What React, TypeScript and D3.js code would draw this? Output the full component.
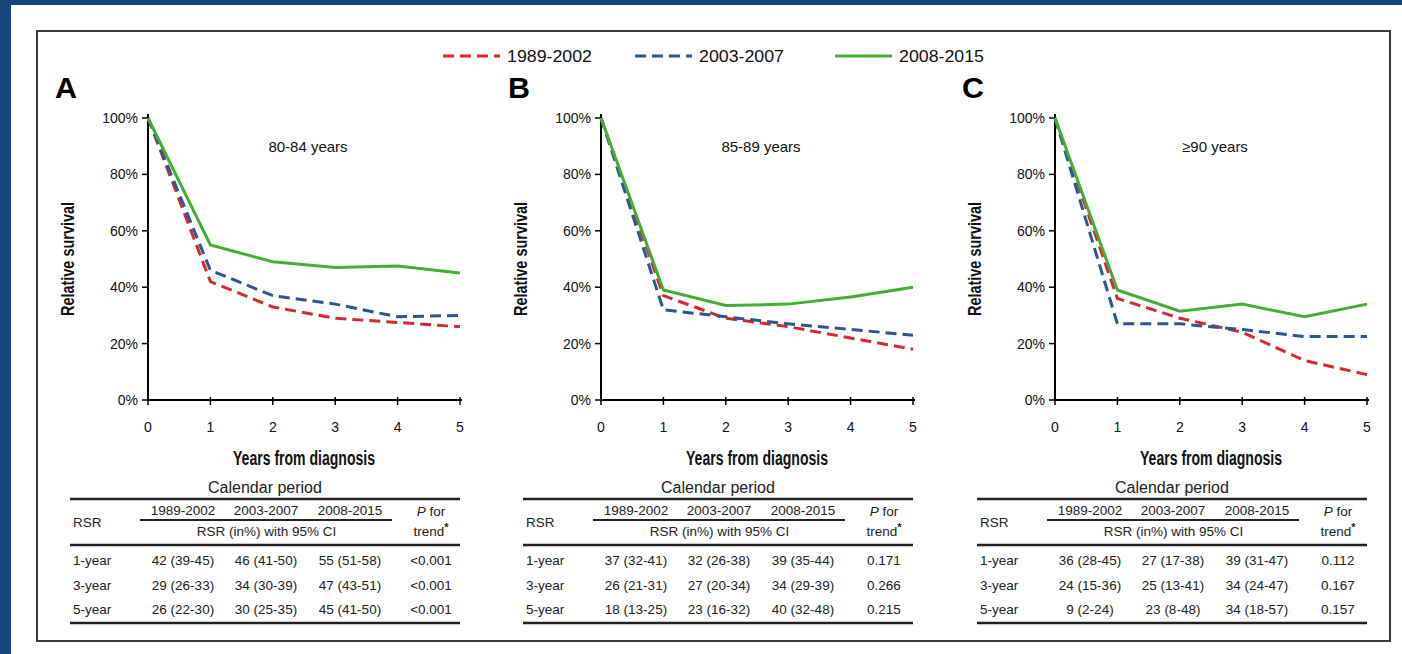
import { useMemo } from "react"
import * as d3 from "d3"

// Datos
const years = [0, 1, 2, 3, 4, 5]
const periods = ["1989-2002", "2003-2007", "2008-2015"]
const yTicks = [0, 20, 40, 60, 80, 100]
const panelLetters = ["A", "B", "C"]
const ageGroups = ["80-84 years", "85-89 years", "≥90 years"]

// Supervivencia relativa (%) por periodo, un array por panel
const survivalA = [
  [100, 42, 33, 29, 27.5, 26],
  [100, 46, 37, 34, 29.5, 30],
  [100, 55, 49, 47, 47.5, 45],
]
const survivalB = [
  [100, 37, 29, 26, 22, 18],
  [100, 32, 29.5, 27, 25, 23],
  [100, 39, 33.5, 34, 36.5, 40],
]
const survivalC = [
  [100, 36, 29, 24, 14, 9],
  [100, 27, 27, 25, 22.5, 22.5],
  [100, 39, 31.5, 34, 29.5, 34],
]

const tableA = [
  ["1-year", "42 (39-45)", "46 (41-50)", "55 (51-58)", "<0.001"],
  ["3-year", "29 (26-33)", "34 (30-39)", "47 (43-51)", "<0.001"],
  ["5-year", "26 (22-30)", "30 (25-35)", "45 (41-50)", "<0.001"],
]
const tableB = [
  ["1-year", "37 (32-41)", "32 (26-38)", "39 (35-44)", "0.171"],
  ["3-year", "26 (21-31)", "27 (20-34)", "34 (29-39)", "0.266"],
  ["5-year", "18 (13-25)", "23 (16-32)", "40 (32-48)", "0.215"],
]
const tableC = [
  ["1-year", "36 (28-45)", "27 (17-38)", "39 (31-47)", "0.112"],
  ["3-year", "24 (15-36)", "25 (13-41)", "34 (24-47)", "0.167"],
  ["5-year", "9 (2-24)", "23 (8-48)", "34 (18-57)", "0.157"],
]

const survivals = [survivalA, survivalB, survivalC]
const tables = [tableA, tableB, tableC]

// Estilos
const colors = ["#d42a2f", "#2b5690", "#45ad35"]
const dashes = ["11,6", "11,6", null]
const SANS = "Liberation Sans, Arial, Helvetica, sans-serif"

const W = 1402
const H = 654
const axisXs = [148, 601, 1055]
const plotW = 312
const yTop = 118
const yBottom = 400
const FS = 13.5 // tamaño de texto de la tabla

function Panel({ idx }: { idx: number }) {
  const x0 = axisXs[idx]
  const x = d3.scaleLinear().domain([0, 5]).range([x0, x0 + plotW])
  const y = d3.scaleLinear().domain([0, 100]).range([yBottom, yTop])
  const line = d3
    .line<number>()
    .x((_, i) => x(years[i]))
    .y((d) => y(d))

  const tl = x0 - 78 // inicio de la tabla
  const tr = x0 + plotW
  const colX = [tl + 113, tl + 196, tl + 280]
  const pX = tl + 361
  const rowYs = [565, 590, 614]

  return (
    <g>
      {/* Letra del panel */}
      <text x={x0 - 93} y={98} fontFamily={SANS} fontWeight="bold" fontSize={29} fill="#000"
        textLength={22} lengthAdjust="spacingAndGlyphs">
        {panelLetters[idx]}
      </text>

      {/* Eje Y */}
      <line x1={x0} x2={x0} y1={yTop - 4} y2={yBottom} stroke="#000" strokeWidth={2} />
      {yTicks.map((t) => (
        <g key={t}>
          <line x1={x0 - 6} x2={x0} y1={y(t)} y2={y(t)} stroke="#000" strokeWidth={1.5} />
          <text x={x0 - 10} y={y(t) + 5} textAnchor="end" fontFamily={SANS} fontSize={14} fill="#111">
            {t}%
          </text>
        </g>
      ))}

      {/* Eje X */}
      <line x1={x0} x2={x0 + plotW + 2} y1={yBottom} y2={yBottom} stroke="#000" strokeWidth={2} />
      {years.map((t) => (
        <g key={t}>
          <line x1={x(t)} x2={x(t)} y1={yBottom - 3} y2={yBottom + 5} stroke="#000" strokeWidth={1.5} />
          <text x={x(t)} y={432} textAnchor="middle" fontFamily={SANS} fontSize={14} fill="#111">
            {t}
          </text>
        </g>
      ))}

      <text
        x={x0 + plotW / 2}
        y={465}
        textAnchor="middle"
        fontFamily={SANS}
        fontWeight="bold"
        fontSize={20}
        fill="#111"
        textLength={142}
        lengthAdjust="spacingAndGlyphs"
      >
        Years from diagnosis
      </text>
      <text
        transform={`translate(${x0 - 74},${(yTop + yBottom) / 2}) rotate(-90)`}
        textAnchor="middle"
        fontFamily={SANS}
        fontWeight="bold"
        fontSize={19}
        fill="#111"
        textLength={114}
        lengthAdjust="spacingAndGlyphs"
      >
        Relative survival
      </text>
      <text x={x0 + 160} y={152} textAnchor="middle" fontFamily={SANS} fontSize={15} fill="#111">
        {ageGroups[idx]}
      </text>

      {/* Curvas */}
      {survivals[idx].map((s, k) => (
        <path
          key={k}
          d={line(s) || ""}
          fill="none"
          stroke={colors[k]}
          strokeWidth={3}
          strokeDasharray={dashes[k] || undefined}
        />
      ))}

      {/* Tabla */}
      <g fontFamily={SANS} fill="#222">
        <text x={(tl + tr) / 2} y={493} textAnchor="middle" fontSize={16}>
          Calendar period
        </text>
        <line x1={tl} x2={tr} y1={499} y2={499} stroke="#222" strokeWidth={2.5} />
        {periods.map((p, k) => (
          <text key={p} x={colX[k]} y={515} textAnchor="middle" fontSize={FS}>
            {p}
          </text>
        ))}
        <line x1={tl + 70} x2={tl + 322} y1={520} y2={520} stroke="#222" strokeWidth={2} />
        <text x={tl + 3} y={527} fontSize={FS}>
          RSR
        </text>
        <text x={(colX[0] + colX[2]) / 2} y={536} textAnchor="middle" fontSize={FS}>
          RSR (in%) with 95% CI
        </text>
        <text x={pX} y={516} textAnchor="middle" fontSize={FS}>
          <tspan fontStyle="italic">P</tspan> for
        </text>
        <text x={pX} y={536} textAnchor="middle" fontSize={FS}>
          trend
          <tspan fontSize={11} fontWeight="bold" dy={-5}>
            *
          </tspan>
        </text>
        <line x1={tl} x2={tr} y1={545} y2={545} stroke="#222" strokeWidth={2.5} />
        {tables[idx].map((row, r) => (
          <g key={r}>
            <text x={tl + 3} y={rowYs[r]} fontSize={FS}>
              {row[0]}
            </text>
            {row.slice(1, 4).map((c, k) => (
              <text key={k} x={colX[k]} y={rowYs[r]} textAnchor="middle" fontSize={FS}>
                {c}
              </text>
            ))}
            <text x={pX} y={rowYs[r]} textAnchor="middle" fontSize={FS}>
              {row[4]}
            </text>
          </g>
        ))}
        <line x1={tl} x2={tr} y1={623} y2={623} stroke="#222" strokeWidth={2.5} />
      </g>
    </g>
  )
}

export default function App() {
  const legendX = useMemo(() => [443, 635, 835], [])
  return (
    <svg width={W} height={H} style={{ position: "absolute", left: 0, top: 0 }}>
      <rect x={0} y={0} width={W} height={H} fill="#14467c" />
      <rect x={11} y={5} width={W - 11} height={H - 5} fill="#fff" />
      <rect x={37} y={31} width={1353} height={610} fill="none" stroke="#3a3a3a" strokeWidth={2} />

      {/* Leyenda */}
      {periods.map((p, k) => (
        <g key={p}>
          <line
            x1={legendX[k]}
            x2={legendX[k] + 57}
            y1={56}
            y2={56}
            stroke={colors[k]}
            strokeWidth={3}
            strokeDasharray={dashes[k] || undefined}
          />
          <text x={legendX[k] + 64} y={62} fontFamily={SANS} fontSize={16.5} fill="#111"
            textLength={85} lengthAdjust="spacingAndGlyphs">
            {p}
          </text>
        </g>
      ))}

      {[0, 1, 2].map((i) => (
        <Panel key={i} idx={i} />
      ))}
    </svg>
  )
}
